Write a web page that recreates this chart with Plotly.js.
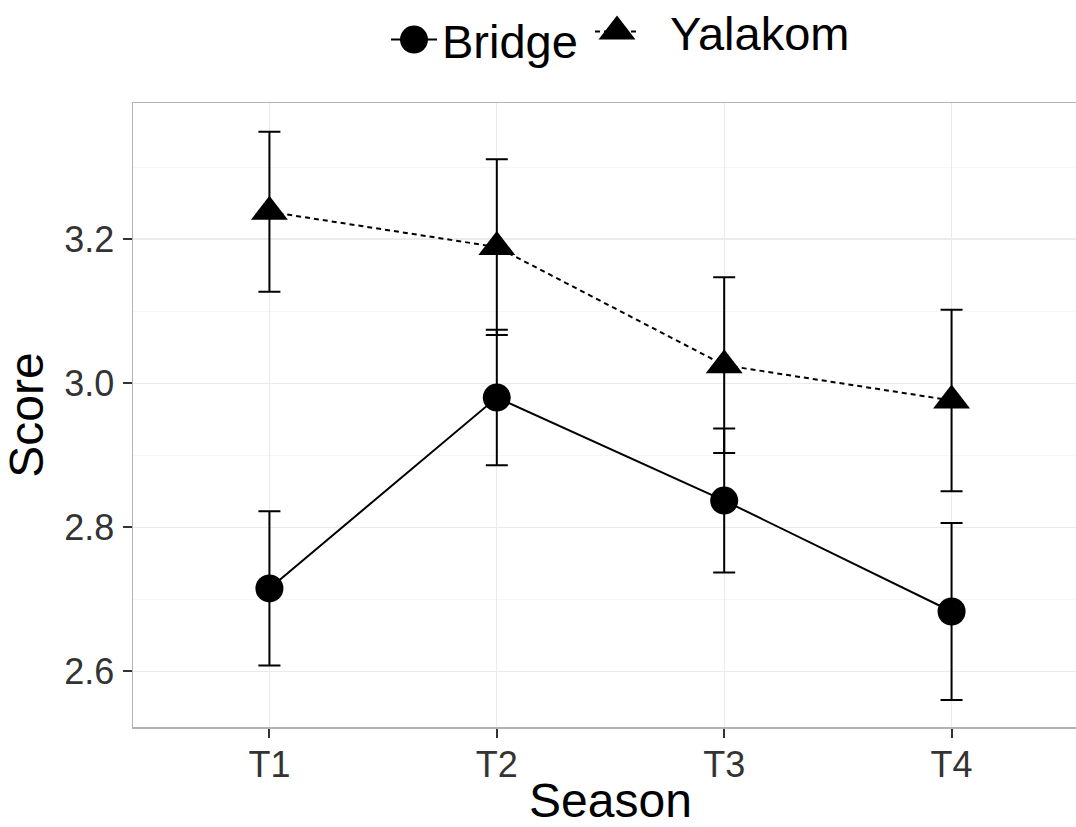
<!DOCTYPE html>
<html>
<head>
<meta charset="utf-8">
<script src="https://cdn.plot.ly/plotly-3.0.1.min.js"></script>
<style>
html, body { margin: 0; padding: 0; overflow: hidden; background: #fff; }
#chart { width: 1090px; height: 827px; }
</style>
</head>
<body>
<div id="chart"></div>
<script>
// ---- data ----
const seasons = ['T1', 'T2', 'T3', 'T4'];
const bridgeScore = [2.715, 2.980, 2.837, 2.683];
const bridgeErr   = [0.107, 0.094, 0.100, 0.123];
const yalakomScore = [3.238, 3.189, 3.025, 2.976];
const yalakomErr   = [0.111, 0.122, 0.122, 0.126];
const yTickVals = [2.6, 2.8, 3.0, 3.2];
const yTickText = ['2.6', '2.8', '3.0', '3.2'];

const FONT = 'Liberation Sans, Arial, Helvetica, sans-serif';

const traces = [
  {
    type: 'scatter', mode: 'lines+markers', name: 'Bridge',
    x: seasons, y: bridgeScore,
    line: { color: '#000', width: 2, dash: 'solid' },
    marker: { symbol: 'circle', size: 28, color: '#000' },
    error_y: { type: 'data', array: bridgeErr, visible: true, color: '#000', thickness: 2, width: 11 },
    legend: 'legend'
  },
  {
    type: 'scatter', mode: 'lines+markers', name: '\u00a0\u00a0Yalakom',
    x: seasons, y: yalakomScore,
    line: { color: '#000', width: 2, dash: '5px,4px' },
    marker: { symbol: 'triangle-up', size: 32, color: '#000' },
    error_y: { type: 'data', array: yalakomErr, visible: true, color: '#000', thickness: 2, width: 11 },
    legend: 'legend2'
  }
];

const layout = {
  width: 1090, height: 827,
  paper_bgcolor: '#fff', plot_bgcolor: '#fff',
  font: { family: FONT, color: '#000' },
  margin: { l: 133, r: 2, t: 103, b: 100, pad: 0 },
  xaxis: {
    type: 'category', categoryorder: 'array', categoryarray: seasons,
    range: [-0.6, 3.6],
    showgrid: true, gridcolor: '#ebebeb', gridwidth: 1.3,
    showline: true, linecolor: '#b3b3b3', linewidth: 1.5, mirror: true,
    ticks: 'outside', ticklen: 9, tickwidth: 2, tickcolor: '#333',
    tickfont: { family: FONT, size: 36, color: '#333' },
    ticklabelstandoff: -4,
    zeroline: false,
    title: { text: 'Season', font: { family: FONT, size: 48, color: '#000' }, standoff: 8 }
  },
  yaxis: {
    range: [2.5226, 3.389],
    tickmode: 'array', tickvals: yTickVals, ticktext: yTickText,
    showgrid: true, gridcolor: '#ebebeb', gridwidth: 1.3,
    minor: { dtick: 0.1, tick0: 2.5, showgrid: true, gridcolor: '#f4f4f4', gridwidth: 0.8, ticks: '' },
    showline: true, linecolor: '#b3b3b3', linewidth: 1.5, mirror: true,
    ticks: 'outside', ticklen: 9, tickwidth: 2, tickcolor: '#333',
    tickfont: { family: FONT, size: 36, color: '#333' },
    ticklabelstandoff: 1,
    zeroline: false,
    title: { text: 'Score', font: { family: FONT, size: 48, color: '#000' }, standoff: 10 }
  },
  legend: {
    orientation: 'h', xref: 'container', yref: 'container',
    x: 386 / 1090, xanchor: 'left', y: 1 - 40 / 827, yanchor: 'middle',
    font: { family: FONT, size: 47, color: '#000' },
    bgcolor: 'rgba(0,0,0,0)', borderwidth: 0, itemwidth: 46
  },
  legend2: {
    orientation: 'h', xref: 'container', yref: 'container',
    x: 590 / 1090, xanchor: 'left', y: 1 - 32 / 827, yanchor: 'middle',
    font: { family: FONT, size: 47, color: '#000' },
    bgcolor: 'rgba(0,0,0,0)', borderwidth: 0, itemwidth: 44
  },
  showlegend: true
};

Plotly.newPlot('chart', traces, layout, { displayModeBar: false, staticPlot: true }).then(function (gd) {
  // enlarge legend symbols to match the plotted marker size (Plotly caps them at 16px)
  gd.querySelectorAll('.legendpoints path.scatterpts').forEach(function (p) {
    const d = p.getAttribute('d') || '';
    const k = d.indexOf('A') >= 0 ? 1.75 : 2.0;
    const t = p.getAttribute('transform') || '';
    p.setAttribute('transform', t + ' scale(' + k + ')');
  });
});
</script>
</body>
</html>
